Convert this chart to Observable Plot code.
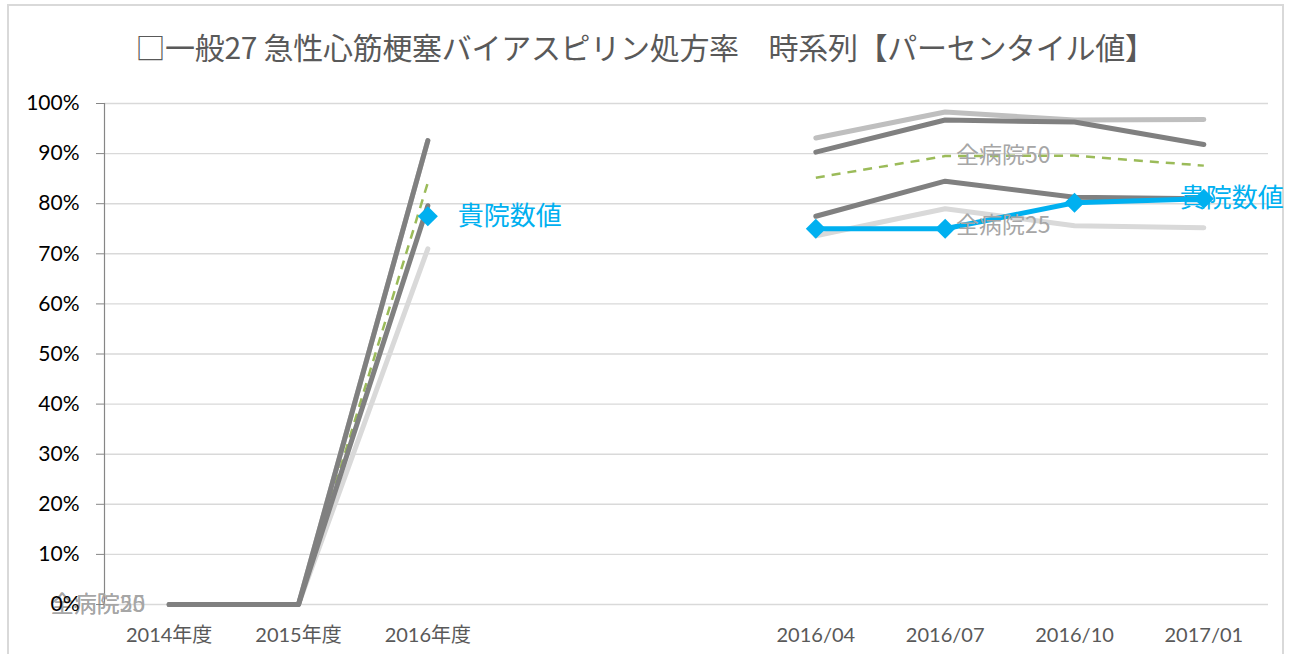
<!DOCTYPE html>
<html>
<head>
<meta charset="utf-8">
<script src="https://cdn.jsdelivr.net/npm/d3@7"></script>
<script src="https://cdn.jsdelivr.net/npm/@observablehq/plot@0.6"></script>
<style>
  html, body { margin: 0; padding: 0; background: #fff; }
  #wrap { position: relative; width: 1290px; height: 654px; overflow: hidden; }
  #border { position: absolute; left: 7px; top: 4px; width: 1277px; height: 700px; border: 2px solid #d9d9d9; box-sizing: border-box; }
  #title { position: absolute; left: 0; top: 0; width: 1290px; height: 80px; line-height: 92px; text-align: center;
           font-family: "Noto Sans CJK JP", sans-serif; font-size: 30px; color: #595959; white-space: pre; letter-spacing: -0.3px; }
  #plot { position: absolute; left: 0; top: 80px; }
  g[aria-label="y-axis tick label"] { font-size: 21px; }
  g[aria-label="y-axis tick label"] text { fill: #000; }
  g[aria-label="x-axis tick label"] { font-size: 20px; }
  g[aria-label="x-axis tick label"] text { fill: #595959; }
</style>
</head>
<body>
<div id="wrap">
  <div id="border"></div>
  <div id="title">□一般27 急性心筋梗塞バイアスピリン処方率　時系列【パーセンタイル値】</div>
  <div id="plot"></div>
</div>
<script>
// Categories (two blank slots separate the fiscal-year block from the quarterly block)
const categories = ["2014年度", "2015年度", "2016年度", "", "", "2016/04", "2016/07", "2016/10", "2017/01"];
const yTicks = [0, 10, 20, 30, 40, 50, 60, 70, 80, 90, 100];

// Series values (%), null = no point
const all90 = [0, 0, 92.6, null, null, 93.1, 98.3, 96.7, 96.8];
const all25 = [0, 0, 71.0, null, null, 73.6, 79.0, 75.6, 75.2];
const all50 = [0, 0, 84.2, null, null, 85.2, 89.5, 89.6, 87.6];
const allMid = [0, 0, 79.6, null, null, 77.5, 84.5, 81.3, 81.0];
const all75 = [0, 0, 92.6, null, null, 90.3, 96.7, 96.3, 91.8];
const hospital = [null, null, 77.5, null, null, 75.0, 75.0, 80.2, 81.0];

// Data labels
const greyLabelNames = ["全病院25", "全病院50", "全病院25", "全病院50"];
const greyLabelSeries = [all25, all50, all25, all50];
const greyLabelIndex = [0, 0, 7, 7];
const hospitalLabel = "貴院数値";

const toRows = (arr) => arr.map((v, i) => ({i, v}));
const xTickIdx = categories.map((c, i) => c ? i : null).filter(i => i !== null);

const greyLabels = greyLabelNames.map((t, k) => ({t, i: greyLabelIndex[k], v: greyLabelSeries[k][greyLabelIndex[k]]}));
const hospRows = toRows(hospital).filter(d => d.v != null);
const hospFirst = [hospRows[0]];
const hospLast = [hospRows[hospRows.length - 1]];

const lineOpts = (color, w, extra = {}) => ({x: "i", y: "v", stroke: color, strokeWidth: w, strokeLinecap: "round", strokeLinejoin: "round", ...extra});

const chart = Plot.plot({
  width: 1290,
  height: 574,
  marginTop: 23,
  marginBottom: 50,
  marginLeft: 104,
  marginRight: 22,
  style: {fontFamily: "Lato, 'Noto Sans CJK JP', sans-serif", fontSize: "19px", background: "transparent", overflow: "visible"},
  x: {type: "linear", domain: [-0.5, categories.length - 0.5], axis: null},
  y: {domain: [0, 100], axis: null},
  marks: [
    Plot.ruleY(yTicks, {stroke: "#d9d9d9", strokeWidth: 1.4}),
    Plot.ruleX([-0.5], {y1: 0, y2: 100, stroke: "#868686", strokeWidth: 1.2}),
    Plot.axisX(xTickIdx, {anchor: "bottom", tickSize: 0, tickPadding: 23, tickFormat: i => categories[i], label: null}),
    Plot.lineY(toRows(all90), lineOpts("#bfbfbf", 5)),
    Plot.lineY(toRows(all25), lineOpts("#d9d9d9", 5)),
    Plot.lineY(toRows(all50), lineOpts("#9bbb59", 2.5, {strokeDasharray: "9,7", strokeLinecap: "butt"})),
    Plot.lineY(toRows(allMid), lineOpts("#808080", 5)),
    Plot.lineY(toRows(all75), lineOpts("#808080", 5)),
    Plot.lineY(toRows(hospital), lineOpts("#00b0f0", 5)),
    Plot.dot(hospRows, {x: "i", y: "v", symbol: "square", r: 8, rotate: 45, fill: "#00b0f0", stroke: "none"}),
    Plot.text(greyLabels, {x: "i", y: "v", text: "t", textAnchor: "end", dx: -24, fill: "#a6a6a6", fontSize: 23, fontFamily: "'Noto Sans CJK JP', sans-serif"}),
    Plot.text(hospFirst, {x: "i", y: "v", text: () => hospitalLabel, textAnchor: "start", dx: 30, fill: "#00b0f0", fontSize: 26, fontFamily: "'Noto Sans CJK JP', sans-serif"}),
    Plot.text(hospLast, {x: "i", y: "v", text: () => hospitalLabel, textAnchor: "start", dx: -24, fill: "#00b0f0", fontSize: 26, fontFamily: "'Noto Sans CJK JP', sans-serif"}),
    Plot.axisY(yTicks, {anchor: "left", tickSize: 8, tickPadding: 17, tickFormat: d => d + "%", stroke: "#868686", label: null})
  ]
});
document.getElementById("plot").appendChild(chart);
</script>
</body>
</html>
